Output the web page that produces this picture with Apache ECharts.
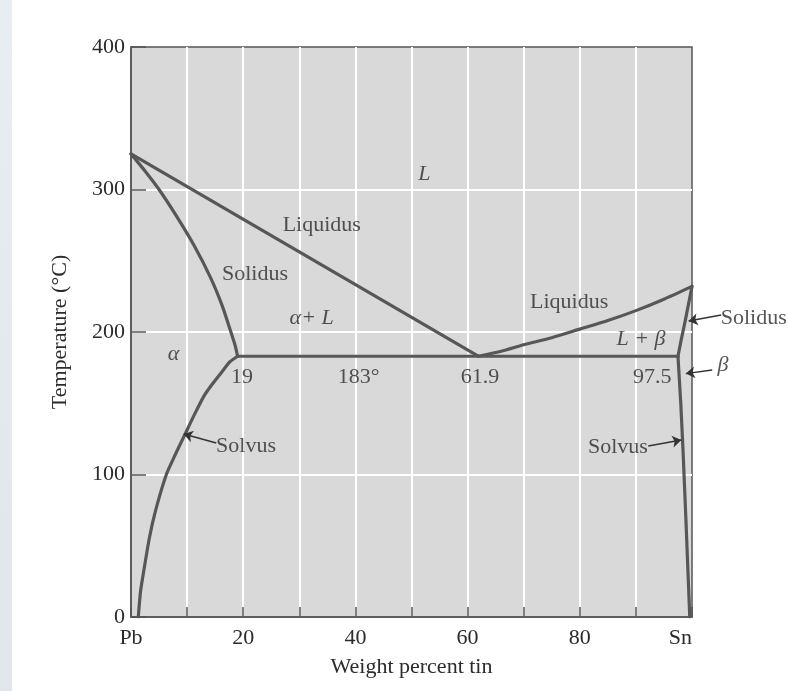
<!DOCTYPE html>
<html>
<head>
<meta charset="utf-8">
<script src="https://cdn.jsdelivr.net/npm/echarts@6/dist/echarts.min.js"></script>
<style>html,body{margin:0;padding:0;background:#fff;}#c{width:788px;height:691px;}</style>
</head>
<body>
<div id="c"></div>
<script>
// ---- data (weight % Sn, temperature °C) ----
const liquidusLeft  = [[0,325],[61.9,183]];
const liquidusRight = [[61.9,183],[66,186.5],[70,191],[75,196],[80,202],[85,208],[90,215],[95,223],[100,232]];
const solidusLeft   = [[0,325],[2.6,312.5],[5,300],[8,282],[11.2,261],[14.2,238],[16.3,218],[17.8,200],[18.6,190],[19,183]];
const solvusLeft    = [[19,183],[17.6,179],[16.2,172],[14.6,164],[13,155],[11.3,142],[9.6,128],[7.9,114],[6.3,100],[4.4,75],[3.3,56],[2.3,33],[1.7,18],[1.3,0]];
const solidusRight  = [[100,232],[99.4,220],[98.8,208],[98.1,195],[97.5,183]];
const solvusRight   = [[97.5,183],[98,150],[98.4,117],[98.9,70],[99.3,30],[99.6,0]];
const eutectic      = [[19,183],[97.5,183]];

const xTickLabels = {0:'Pb',20:'20',40:'40',60:'60',80:'80',100:'Sn'};
const yTickLabels = [0,100,200,300,400];

// region / point labels: [text, x, y, italic]
const annotations = [
  ['L', 52.3, 311, true],
  ['Liquidus', 34.0, 274.7, false],
  ['Solidus', 22.1, 240.4, false],
  ['α+ L', 32.2, 209.8, true],
  ['Liquidus', 78.1, 221.2, false],
  ['L + β', 90.9, 195.1, true],
  ['α', 7.6, 184.1, true],
  ['19', 19.8, 168.6, false],
  ['183°', 40.6, 168.6, false],
  ['61.9', 62.2, 168.6, false],
  ['97.5', 92.9, 168.6, false],
  ['Solvus', 20.5, 120.1, false],
  ['Solvus', 86.8, 119.3, false],
  ['Solidus', 111, 209.8, false],
  ['β', 105.5, 176.4, true]
];
// arrows: [from, to]
const arrows = [
  [[15.2,122.1],[9.4,128.4]],
  [[92.2,120],[98.1,124.2]],
  [[105.2,211.9],[99.4,207.7]],
  [[103.6,173.3],[98.9,170.8]]
];

const FONT = "'Liberation Serif','Times New Roman','DejaVu Serif',serif";
const TXT = '#2b2b2b';
const CURVE = '#575757';
const FS = 22;

function curve(data, smooth) {
  return {
    type: 'line', data: data, showSymbol: false, smooth: smooth || false,
    lineStyle: {color: CURVE, width: 3.2, join: 'round', cap: 'round'}, silent: true, z: 3
  };
}

const chart = echarts.init(document.getElementById('c'), null, {renderer: 'canvas'});
chart.setOption({
  animation: false,
  backgroundColor: '#ffffff',
  graphic: [{
    type: 'rect', left: 0, top: 0, shape: {width: 12, height: 691}, z: -10,
    style: {fill: new echarts.graphic.LinearGradient(0,0,0,1,[{offset:0,color:'#e8edf1'},{offset:1,color:'#e2e6ea'}])}
  }],
  grid: {
    left: 131, right: 96, top: 47, bottom: 74,
    show: true, backgroundColor: '#d9d9d9', borderColor: '#555', borderWidth: 1.5
  },
  xAxis: {
    type: 'value', min: 0, max: 100, interval: 10,
    name: 'Weight percent tin', nameLocation: 'middle', nameGap: 39,
    nameTextStyle: {fontFamily: FONT, fontSize: FS, color: TXT},
    axisLine: {show: true, lineStyle: {color: '#555', width: 1.5}},
    axisTick: {show: true, inside: true, length: 10, lineStyle: {color: '#555', width: 1.5}},
    axisLabel: {
      fontFamily: FONT, fontSize: FS, color: TXT, margin: 10,
      alignMaxLabel: 'right',
      formatter: v => (xTickLabels[v] !== undefined ? xTickLabels[v] : '')
    },
    splitLine: {show: true, showMinLine: false, showMaxLine: false, lineStyle: {color: '#ffffff', width: 2}}
  },
  yAxis: {
    type: 'value', min: 0, max: 400, interval: 100,
    name: 'Temperature (°C)', nameLocation: 'middle', nameGap: 60,
    nameTextStyle: {fontFamily: FONT, fontSize: FS, color: TXT},
    axisLine: {show: true, lineStyle: {color: '#555', width: 1.5}},
    axisTick: {show: true, inside: true, length: 15, lineStyle: {color: '#555', width: 1.5}},
    axisLabel: {
      fontFamily: FONT, fontSize: FS, color: TXT, margin: 6,
      formatter: v => (yTickLabels.indexOf(v) >= 0 ? String(v) : '')
    },
    splitLine: {show: true, showMinLine: false, showMaxLine: false, lineStyle: {color: '#ffffff', width: 2}}
  },
  series: [
    curve(liquidusLeft),
    curve(liquidusRight, 0.2),
    curve(solidusLeft, 0.2),
    curve(solvusLeft, 0.2),
    curve(solidusRight),
    curve(solvusRight),
    curve(eutectic),
    {
      type: 'scatter', clip: false, symbolSize: 0, silent: true, z: 5,
      data: annotations.map(a => ({
        value: [a[1], a[2]],
        label: {
          show: true, position: 'inside', formatter: a[0],
          fontFamily: FONT, fontSize: FS, color: TXT,
          fontStyle: a[3] ? 'italic' : 'normal'
        }
      }))
    },
    {
      type: 'lines', coordinateSystem: 'cartesian2d', clip: false, silent: true, z: 6,
      symbol: ['none', 'arrow'], symbolSize: [0, 9],
      lineStyle: {color: '#333', width: 1.4, opacity: 1, curveness: 0},
      data: arrows.map(ar => ({coords: [ar[0], ar[1]]}))
    }
  ]
});
</script>
</body>
</html>
